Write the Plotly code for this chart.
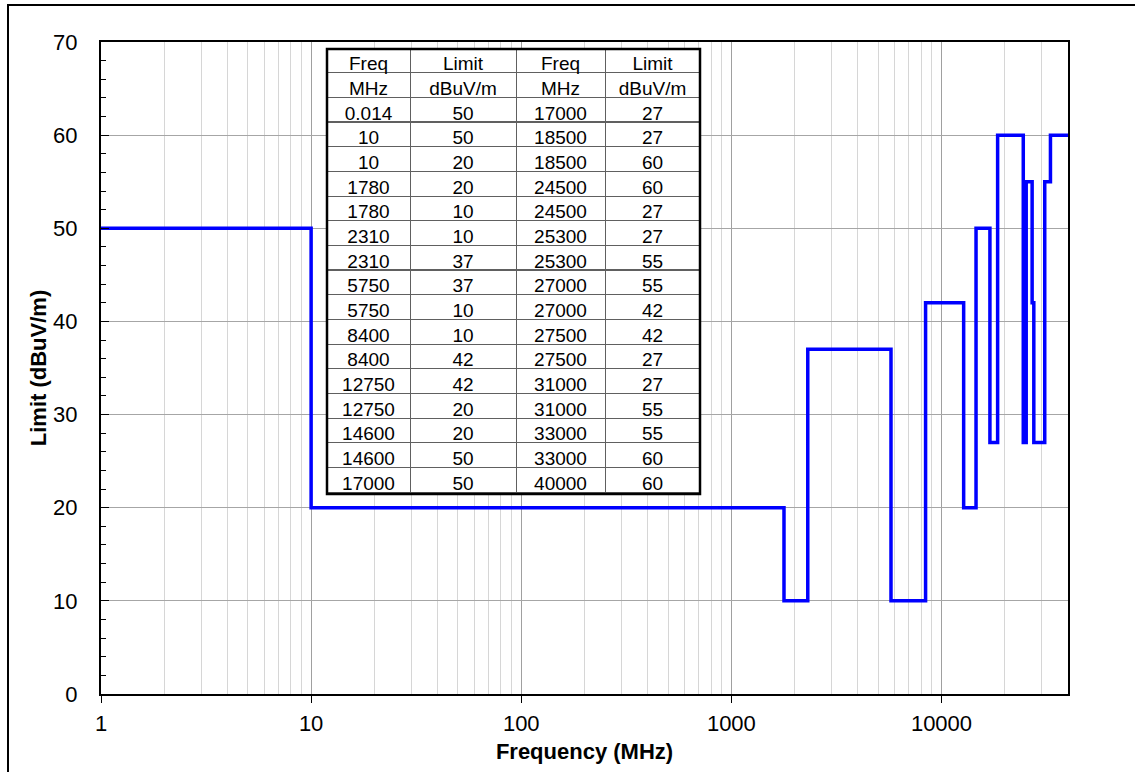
import plotly.graph_objects as go

# Data (limit mask)
freq_a = [0.014, 10, 10, 1780, 1780, 2310, 2310, 5750, 5750, 8400, 8400, 12750, 12750, 14600, 14600, 17000]
limit_a = [50, 50, 20, 20, 10, 10, 37, 37, 10, 10, 42, 42, 20, 20, 50, 50]
freq_b = [17000, 18500, 18500, 24500, 24500, 25300, 25300, 27000, 27000, 27500, 27500, 31000, 31000, 33000, 33000, 40000]
limit_b = [27, 27, 60, 60, 27, 27, 55, 55, 42, 42, 27, 27, 55, 55, 60, 60]

header_top = ["Freq", "Limit", "Freq", "Limit"]
header_units = ["MHz", "dBuV/m", "MHz", "dBuV/m"]

x_tick_vals = [1, 10, 100, 1000, 10000]
x_tick_text = ["1", "10", "100", "1000", "10000"]

FONT = "Liberation Sans, Arial, sans-serif"

W, H = 1135, 772
L, R, T, B = 101, 1135 - 1068, 42, 772 - 694
PW, PH = W - L - R, H - T - B


def px_to_paper_x(px):
    return (px - L) / PW


def px_to_paper_y(py):
    return (H - B - py) / PH


freq_all = freq_a + freq_b
limit_all = limit_a + limit_b

fig = go.Figure()
fig.add_trace(go.Scatter(
    x=freq_all, y=limit_all, mode="lines",
    line=dict(color="#0000FF", width=3.5),
    showlegend=False, hoverinfo="skip",
))


def fmt(v):
    return ("%g" % v)


col1 = [header_units[0]] + [fmt(v) for v in freq_a]
col2 = [header_units[1]] + [fmt(v) for v in limit_a]
col3 = [header_units[2]] + [fmt(v) for v in freq_b]
col4 = [header_units[3]] + [fmt(v) for v in limit_b]

tab_l, tab_r, tab_t = 327, 700, 48
row_h = 444 / 18.0
tab_b = tab_t + 18 * row_h

fig.add_trace(go.Table(
    domain=dict(x=[px_to_paper_x(tab_l), px_to_paper_x(tab_r)],
                y=[px_to_paper_y(tab_b + 60), px_to_paper_y(tab_t)]),
    columnwidth=[83, 106, 89, 95],
    header=dict(values=header_top, height=row_h, align="center",
                fill_color="white", line=dict(color="#606060", width=1),
                font=dict(family=FONT, size=19, color="black")),
    cells=dict(values=[col1, col2, col3, col4], height=row_h, align="center",
               fill_color="white", line=dict(color="#606060", width=1),
               font=dict(family=FONT, size=19, color="black")),
))

# Table outer border
fig.add_shape(type="rect", xref="paper", yref="paper",
              x0=px_to_paper_x(tab_l), x1=px_to_paper_x(tab_r),
              y0=px_to_paper_y(494), y1=px_to_paper_y(49),
              line=dict(color="black", width=2.5), layer="above")
# Outer chart border
fig.add_shape(type="rect", xref="paper", yref="paper",
              x0=px_to_paper_x(8), x1=px_to_paper_x(1145),
              y0=px_to_paper_y(785), y1=px_to_paper_y(5),
              line=dict(color="black", width=2), layer="above")

minor_x = [k * 10 ** d for d in range(0, 5) for k in range(2, 10) if k * 10 ** d < 40000]

fig.update_layout(
    width=W, height=H,
    margin=dict(l=L, r=R, t=T, b=B, pad=0, autoexpand=False),
    paper_bgcolor="white", plot_bgcolor="white",
    font=dict(family=FONT, size=22, color="black"),
    xaxis=dict(
        type="log", range=[0, 4.60206], automargin=False,
        tickmode="array", tickvals=x_tick_vals, ticktext=x_tick_text,
        ticks="outside", ticklen=7, tickcolor="black", tickwidth=1,
        showgrid=True, gridcolor="#a0a0a0", gridwidth=1,
        showline=True, linecolor="black", linewidth=2, mirror=True,
        minor=dict(tickmode="array", tickvals=minor_x, showgrid=True,
                   gridcolor="#d6d6d6", gridwidth=1, ticks=""),
        tickfont=dict(size=22), ticklabelstandoff=2,
        title=dict(text="<b>Frequency (MHz)</b>", font=dict(size=22), standoff=8),
        zeroline=False,
    ),
    yaxis=dict(
        range=[0, 70], tickmode="linear", tick0=0, dtick=10, automargin=False,
        ticks="inside", ticklen=8, tickcolor="black", tickwidth=1,
        showgrid=True, gridcolor="#a6a6a6", gridwidth=1,
        showline=True, linecolor="black", linewidth=2, mirror=True,
        minor=dict(dtick=2, ticks="inside", ticklen=5, tickcolor="black", showgrid=False),
        tickfont=dict(size=22), ticklabelstandoff=17,
        title=dict(text="<b>Limit (dBuV/m)</b>", font=dict(size=22), standoff=0),
        zeroline=False,
    ),
)

fig.write_html("out.html")
